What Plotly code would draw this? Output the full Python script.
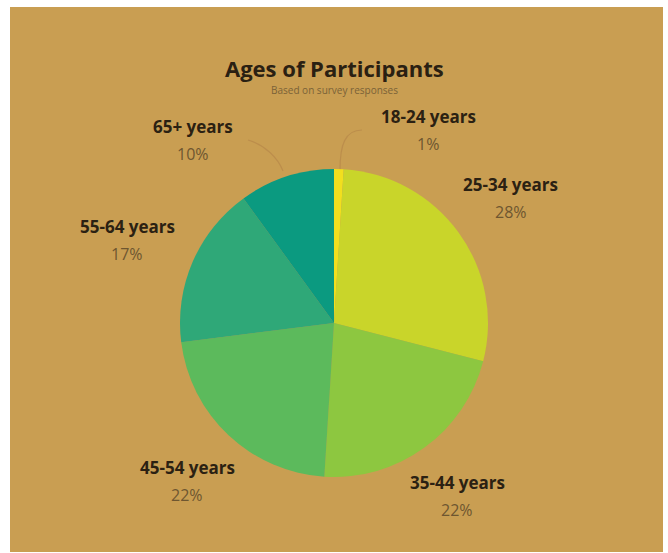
import plotly.graph_objects as go

categories = ["18-24 years", "25-34 years", "35-44 years", "45-54 years", "55-64 years", "65+ years"]
values = [1, 28, 22, 22, 17, 10]
colors = ["#F2DF1E", "#C9D52A", "#8DC740", "#5CBA5C", "#2FA878", "#0B9A80"]

W, H = 668, 553
BG = "#C99E52"

# label anchor positions (pixel) for each category: (x, y of name)
label_pos = {
    "18-24 years": (428, 116),
    "25-34 years": (511, 184),
    "35-44 years": (457, 482),
    "45-54 years": (187, 467),
    "55-64 years": (127, 226),
    "65+ years": (193, 126),
}

cx, cy, r = 334, 323, 154

fig = go.Figure()
fig.add_trace(go.Pie(
    labels=categories,
    values=values,
    sort=False,
    direction="clockwise",
    rotation=0,
    marker=dict(colors=colors, line=dict(width=0)),
    textinfo="none",
    hoverinfo="label+percent",
    showlegend=False,
    domain=dict(x=[(cx - r) / W, (cx + r) / W], y=[1 - (cy + r) / H, 1 - (cy - r) / H]),
))

def px(x):
    return x / W

def py(y):
    return 1 - y / H

annotations = [
    dict(text="<b>Ages of Participants</b>", x=px(334), y=py(68), xref="paper", yref="paper",
         showarrow=False, font=dict(family="Open Sans", size=22, color="#2A2012"), xanchor="center", yanchor="middle"),
    dict(text="Based on survey responses", x=px(334), y=py(90), xref="paper", yref="paper",
         showarrow=False, font=dict(family="Open Sans", size=10, color="#7A6238"), xanchor="center", yanchor="middle"),
]
for cat, val in zip(categories, values):
    lx, ly = label_pos[cat]
    annotations.append(dict(text=f"<b>{cat}</b>", x=px(lx), y=py(ly), xref="paper", yref="paper",
                            showarrow=False, font=dict(family="Open Sans", size=17, color="#2B2112"),
                            xanchor="center", yanchor="middle"))
    annotations.append(dict(text=f"{val}%", x=px(lx), y=py(ly + 28), xref="paper", yref="paper",
                            showarrow=False, font=dict(family="Open Sans", size=16, color="#6E5630"),
                            xanchor="center", yanchor="middle"))

def path_px(points):
    # cubic bezier path in paper coords
    (x0, y0), (x1, y1), (x2, y2), (x3, y3) = points
    return (f"M {px(x0)} {py(y0)} C {px(x1)} {py(y1)}, {px(x2)} {py(y2)}, {px(x3)} {py(y3)}")

shapes = [
    dict(type="rect", xref="paper", yref="paper", x0=10 / W, x1=663 / W, y0=1 - 552 / H, y1=1 - 7 / H,
         fillcolor=BG, line=dict(width=0), layer="below"),
    dict(type="path", xref="paper", yref="paper", path=path_px([(248, 140), (265, 145), (278, 158), (283, 171)]),
         line=dict(color="#BC8E4C", width=1.2), layer="below"),
    dict(type="path", xref="paper", yref="paper", path=path_px([(362, 130), (345, 130), (340, 145), (340, 170)]),
         line=dict(color="#BC8E4C", width=1.2), layer="below"),
]

fig.update_layout(
    width=W, height=H,
    margin=dict(l=0, r=0, t=0, b=0),
    paper_bgcolor="white",
    plot_bgcolor="white",
    annotations=annotations,
    shapes=shapes,
)

fig.write_html("out.html")
